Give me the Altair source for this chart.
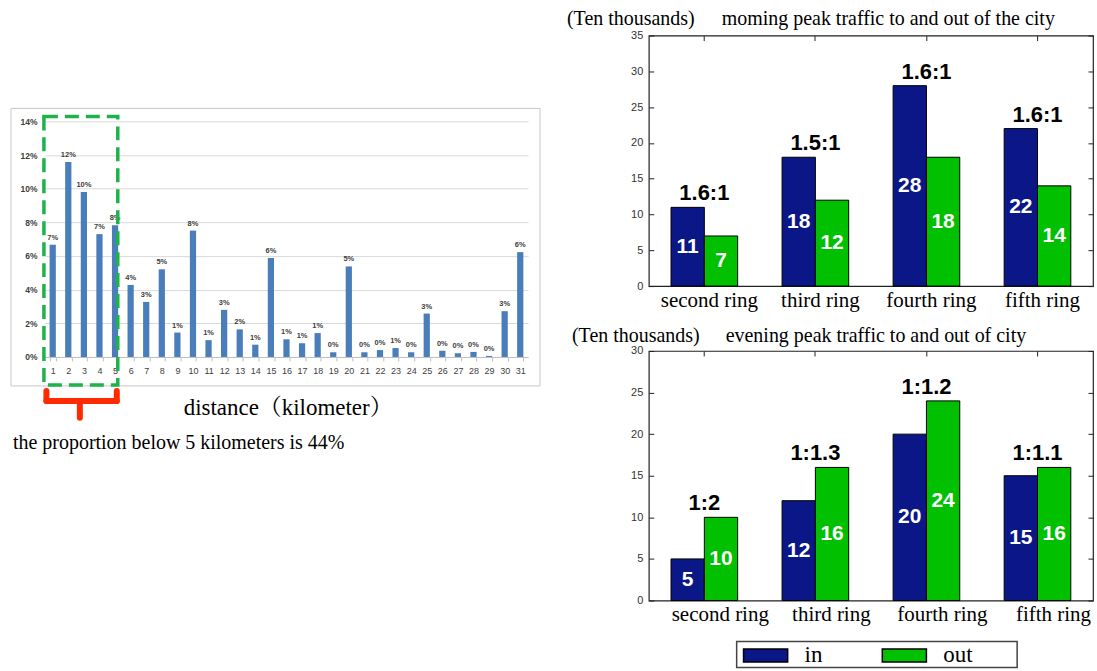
import altair as alt
import pandas as pd

# ---- trip distance distribution (share of trips per km) ----
km = list(range(1, 32))
share = [6.67, 11.58, 9.80, 7.30, 7.83, 4.28, 3.27, 5.21, 1.45, 7.51,
         1.00, 2.80, 1.64, 0.73, 5.88, 1.05, 0.81, 1.42, 0.28, 5.38,
         0.28, 0.41, 0.53, 0.28, 2.58, 0.37, 0.22, 0.30, 0.06, 2.72, 6.23]
share_ticks = [0, 2, 4, 6, 8, 10, 12, 14]

# ---- ring-road peak traffic (ten thousands) ----
rings = ["second ring", "third ring", "fourth ring", "fifth ring"]
morning_in = [11, 18, 28, 22]
morning_out = [7, 12, 18, 14]
morning_ratio = ["1.6:1", "1.5:1", "1.6:1", "1.6:1"]
evening_in = [5, 12, 20, 15]
evening_out = [10, 16, 24, 16]
evening_ratio = ["1:2", "1:1.3", "1:1.2", "1:1.1"]

SERIF = "Liberation Serif, Noto Serif CJK SC, Noto Sans CJK SC, serif"
SANS = "Liberation Sans, Arial, sans-serif"
NAVY = "#0b1787"
GREEN = "#00c000"
BAR_BLUE = "#4a7ebb"

one = pd.DataFrame({"k": [0]})


def label(text, x, y, size, font=SERIF, align="left", color="black", weight="normal"):
    return alt.Chart(pd.DataFrame({"t": [text]})).mark_text(
        align=align, baseline="middle", font=font, fontSize=size,
        color=color, fontWeight=weight
    ).encode(text="t:N", x=alt.value(x), y=alt.value(y))


# ---------------- left: distance histogram ----------------
LW, LH = 484, 322
y_top = 0.14 * LH / 236
dist_df = pd.DataFrame({"km": km, "share": [s / 100 for s in share]})

x_km = alt.X(
    "km:O", sort=km,
    scale=alt.Scale(paddingInner=0.6, paddingOuter=0.3),
    axis=alt.Axis(title=None, labelAngle=0, labelFontSize=9, labelColor="#404040",
                  labelFont=SANS, domainColor="#bfbfbf", tickColor="#bfbfbf",
                  tickSize=4, tickBand="extent", labelPadding=6, grid=False),
)
y_share = alt.Y(
    "share:Q",
    scale=alt.Scale(domain=[0, y_top], nice=False, zero=True),
    axis=alt.Axis(title=None, values=[t / 100 for t in share_ticks], format=".0%",
                  labelFontSize=8.5, labelFontWeight="bold", labelColor="#404040",
                  labelFont=SANS, ticks=False, domain=False, gridColor="#d9d9d9",
                  labelPadding=8),
)

canvas = alt.Chart(one).mark_rect(opacity=0).encode(
    x=alt.value(-44), x2=alt.value(1053), y=alt.value(-34), y2=alt.value(637))
frame_box = alt.Chart(one).mark_rect(fill="transparent", stroke="#c8c8c8", strokeWidth=1).encode(
    x=alt.value(-34), x2=alt.value(496), y=alt.value(73), y2=alt.value(351))
dist_bars = alt.Chart(dist_df).mark_bar(color=BAR_BLUE).encode(x=x_km, y=y_share)
dist_text = alt.Chart(dist_df).mark_text(
    baseline="bottom", dy=-3, fontSize=7.5, fontWeight="bold", color="#404040", font=SANS
).encode(x=x_km, y=y_share, text=alt.Text("share:Q", format=".0%"))
highlight = alt.Chart(one).mark_rect(
    fill="transparent", stroke="#1db24a", strokeWidth=3.5, strokeDash=[14, 7]
).encode(x=alt.value(-1), x2=alt.value(73), y=alt.value(81), y2=alt.value(350))

brace_style = dict(color="#ff2a00", strokeWidth=6, strokeCap="round")
brace = [
    alt.Chart(one).mark_rule(**brace_style).encode(x=alt.value(1.5), y=alt.value(356), y2=alt.value(366)),
    alt.Chart(one).mark_rule(**brace_style).encode(x=alt.value(72), y=alt.value(356), y2=alt.value(366)),
    alt.Chart(one).mark_rule(**brace_style).encode(x=alt.value(1.5), x2=alt.value(72), y=alt.value(366)),
    alt.Chart(one).mark_rule(**brace_style).encode(x=alt.value(35), y=alt.value(366), y2=alt.value(383)),
]

left = alt.layer(
    canvas, frame_box, dist_bars, dist_text, highlight, *brace,
    label("distance（kilometer）", 139, 373, 23),
    label("the proportion below 5 kilometers is 44%", -32, 408, 20),
).properties(width=LW, height=LH)


# ---------------- right: ring-road panels ----------------
RW = 445
# wide, flat swatch for the legend entries
LEGEND_PATH = "M-1.7,-0.5L1.7,-0.5L1.7,0.5L-1.7,0.5Z"


def ring_chart(v_in, v_out, ratios, ymax, height, title, title_y, unit_x, title_x,
               label_shift, legend, extras=()):
    df = pd.DataFrame({"ring": rings * 2, "dir": ["in"] * 4 + ["out"] * 4,
                       "value": v_in + v_out})
    rdf = pd.DataFrame({"ring": rings, "ratio": ratios,
                        "top": [max(a, b) for a, b in zip(v_in, v_out)]})
    xscale = alt.Scale(domain=rings, paddingInner=0.4, paddingOuter=0.2)
    yscale = alt.Scale(domain=[0, ymax], nice=False)
    ticks = list(range(0, ymax + 1, 5))
    xoff = alt.XOffset("dir:N", sort=["in", "out"],
                       scale=alt.Scale(domain=["in", "out"], paddingInner=0, paddingOuter=0))

    bars = alt.Chart(df).mark_bar(stroke="black", strokeWidth=1).encode(
        x=alt.X("ring:N", sort=rings, scale=xscale,
                axis=alt.Axis(title=None, labelAngle=0, labelFont=SERIF, labelFontSize=21,
                              labelColor="black", ticks=False, domain=False,
                              labelPadding=3, labelOffset=label_shift)),
        xOffset=xoff,
        y=alt.Y("value:Q", scale=yscale,
                axis=alt.Axis(title=None, values=ticks, orient="left", offset=-5,
                              tickSize=5, tickColor="#222", domain=False, labelFont=SANS,
                              labelFontSize=11, labelColor="#333", labelPadding=6,
                              grid=False)),
        color=alt.Color("dir:N", scale=alt.Scale(domain=["in", "out"], range=[NAVY, GREEN]),
                        legend=legend),
    )
    values = alt.Chart(df).transform_calculate(mid="datum.value / 2").mark_text(
        color="white", fontSize=21, font=SANS, fontWeight="bold", baseline="middle"
    ).encode(
        x=alt.X("ring:N", sort=rings, scale=xscale, axis=None),
        xOffset=xoff,
        y=alt.Y("mid:Q", scale=yscale, axis=None),
        text="value:Q",
    )
    ratio_text = alt.Chart(rdf).mark_text(
        fontSize=22, fontWeight="bold", baseline="bottom", dy=-2, font=SANS, color="black"
    ).encode(
        x=alt.X("ring:N", sort=rings, scale=xscale,
                axis=alt.Axis(orient="top", offset=-5, tickSize=5, labels=False,
                              domain=False, title=None, tickColor="#222")),
        y=alt.Y("top:Q", scale=yscale,
                axis=alt.Axis(orient="right", offset=-5, tickSize=5, labels=False,
                              domain=False, title=None, values=ticks, grid=False,
                              tickColor="#222")),
        text="ratio:N",
    )
    return alt.layer(
        *extras, bars, values, ratio_text,
        label("(Ten thousands)", unit_x, title_y, 20),
        label(title, title_x, title_y, 20),
    ).resolve_axis(x="independent", y="independent").properties(
        width=RW, height=height,
        view=alt.ViewBackground(stroke="#222", strokeWidth=1.2),
    )


legend = alt.Legend(
    title=None, orient="none", legendX=103, legendY=291, direction="horizontal",
    symbolType=LEGEND_PATH, symbolSize=676, symbolStrokeColor="black",
    symbolStrokeWidth=1.5, symbolOpacity=1, labelFont=SERIF, labelFontSize=23,
    labelColor="black", labelOffset=25, columnPadding=56, padding=0,
)
legend_box = alt.Chart(one).mark_rect(fill="white", stroke="#444", strokeWidth=1.5).encode(
    x=alt.value(88), x2=alt.value(369), y=alt.value(291), y2=alt.value(317))

morning = ring_chart(morning_in, morning_out, morning_ratio, 35, 251,
                     "moming peak traffic to and out of the city", -17, -82, 73, 5, None)
evening = ring_chart(evening_in, evening_out, evening_ratio, 30, 250,
                     "evening peak traffic to and out of city", -15, -77, 77, 16, legend,
                     extras=(legend_box,))

right = alt.vconcat(morning, evening, spacing=65, bounds="flush").resolve_scale(
    x="independent", y="independent", color="independent"
).resolve_legend(color="independent")

chart = alt.hconcat(left, right, spacing=121, bounds="flush").resolve_scale(
    x="independent", y="independent"
).properties(padding=0).configure_view(stroke="transparent")

chart.save("out.html", embed_options={"renderer": "svg", "actions": False})
